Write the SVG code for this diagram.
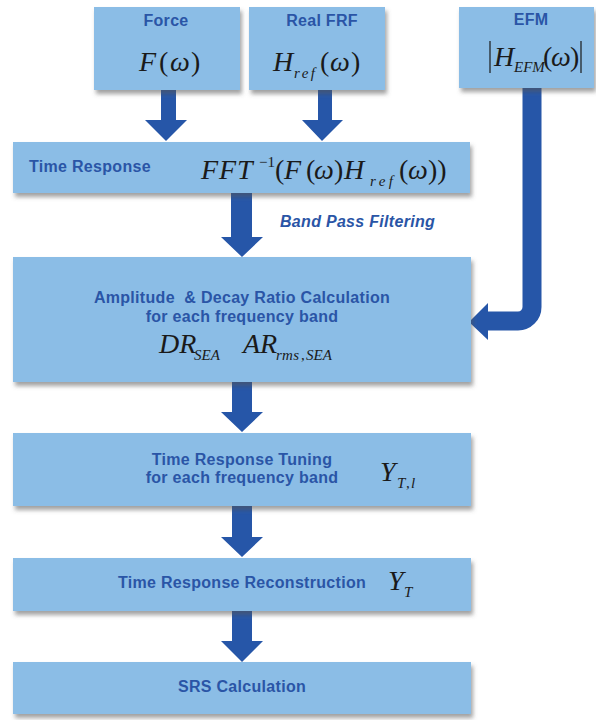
<svg xmlns="http://www.w3.org/2000/svg" width="596" height="720" viewBox="0 0 596 720">
  <defs>
    <filter id="shadow" x="-5%" y="-10%" width="115%" height="135%">
      <feDropShadow dx="2" dy="4" stdDeviation="2" flood-color="#555" flood-opacity="0.55"/>
    </filter>
    <style>
      .box { fill: #8BBDE6; filter: url(#shadow); }
      .lbl { font-family: "Liberation Sans", Arial, sans-serif; font-weight: bold; font-size: 16px; letter-spacing: 0.3px; fill: #2A55A6; }
      .math { font-family: "Liberation Serif", "Times New Roman", serif; font-style: italic; font-size: 28px; fill: #1a1a1a; }
      .up { font-style: normal; }
      .sub { font-size: 15px; }
      .arrow { fill: #2656A8; }
    </style>
  </defs>
  <rect width="596" height="720" fill="#ffffff"/>

  <!-- connectors -->
  <g id="connectors">
    <!-- Force -> Time Response -->
    <polygon class="arrow" points="161,90 176,90 176,120 187,120 166,141 145,120 161,120"/>
    <!-- Real FRF -> Time Response -->
    <polygon class="arrow" points="318,90 332,90 332,120 343,120 322,141 302,120 318,120"/>
    <!-- EFM -> Amplitude & Decay Ratio (bent arrow) -->
    <path d="M532 88 V307 A14 14 0 0 1 518 321 H485" fill="none" stroke="#2656A8" stroke-width="19"/>
    <polygon class="arrow" points="469,322 488,303 488,340"/>
    <!-- Time Response -> Amplitude & Decay Ratio -->
    <polygon class="arrow" points="231,193 252,193 252,237 263,237 242,257 221,237 231,237"/>
    <text class="lbl" x="280" y="227" font-style="italic">Band Pass Filtering</text>
    <!-- Amplitude & Decay Ratio -> Time Response Tuning -->
    <polygon class="arrow" points="232,382 252,382 252,412 263,412 242,432 221,412 232,412"/>
    <!-- Time Response Tuning -> Reconstruction -->
    <polygon class="arrow" points="232,506 252,506 252,537 263,537 242,557 221,537 232,537"/>
    <!-- Reconstruction -> SRS -->
    <polygon class="arrow" points="232,611 252,611 252,641 263,641 242,662 221,641 232,641"/>
  </g>

  <!-- Force input -->
  <g id="force">
    <rect class="box" x="94" y="7" width="146" height="83"/>
    <text class="lbl" x="166" y="26" text-anchor="middle">Force</text>
    <text class="math" y="71"><tspan x="139">F</tspan><tspan class="up" x="159">(</tspan><tspan x="170">ω</tspan><tspan class="up" x="191">)</tspan></text>
  </g>

  <!-- Real FRF input -->
  <g id="real-frf">
    <rect class="box" x="249" y="7" width="136" height="83"/>
    <text class="lbl" x="322" y="26" text-anchor="middle">Real FRF</text>
    <text class="math" y="71"><tspan x="273">H</tspan><tspan class="sub" font-size="16" x="294" y="78" textLength="21" lengthAdjust="spacing">ref</tspan><tspan class="up" x="320" y="71">(</tspan><tspan x="330">ω</tspan><tspan class="up" x="351">)</tspan></text>
  </g>

  <!-- EFM input -->
  <g id="efm">
    <rect class="box" x="459" y="7" width="135" height="81"/>
    <text class="lbl" x="531" y="25" text-anchor="middle">EFM</text>
    <line x1="490" y1="41" x2="490" y2="73" stroke="#1a1a1a" stroke-width="1.2"/>
    <line x1="581" y1="41" x2="581" y2="73" stroke="#1a1a1a" stroke-width="1.2"/>
    <text class="math" font-size="26" y="66"><tspan x="494">H</tspan><tspan class="sub" font-size="12" x="514" y="72">EFM</tspan><tspan class="up" x="543" y="66">(</tspan><tspan x="551">ω</tspan><tspan class="up" x="570">)</tspan></text>
  </g>

  <!-- Time response -->
  <g id="time-response">
    <rect class="box" x="13" y="142" width="457" height="51"/>
    <text class="lbl" x="29" y="172">Time Response</text>
    <text class="math" y="179"><tspan x="201">F</tspan><tspan x="219">F</tspan><tspan x="237">T</tspan><tspan class="up sub" font-size="16" x="259" y="167">−1</tspan><tspan class="up" x="275" y="179">(</tspan><tspan x="284">F</tspan><tspan class="up" x="306">(</tspan><tspan x="314">ω</tspan><tspan class="up" x="334">)</tspan><tspan x="344">H</tspan><tspan class="sub" font-size="16" x="370" y="186" textLength="23" lengthAdjust="spacing">ref</tspan><tspan class="up" x="399" y="179">(</tspan><tspan x="408">ω</tspan><tspan class="up" x="428">))</tspan></text>
  </g>

  <!-- Amplitude & decay ratio calculation -->
  <g id="amplitude-decay">
    <rect class="box" x="13" y="257" width="458" height="125"/>
    <text class="lbl" x="242" y="303" text-anchor="middle" xml:space="preserve">Amplitude  &amp; Decay Ratio Calculation</text>
    <text class="lbl" x="242" y="322" text-anchor="middle">for each frequency band</text>
    <text class="math" font-size="24" y="353"><tspan x="159">DR</tspan><tspan class="sub" x="194" y="360">SEA</tspan></text>
    <text class="math" font-size="24" y="353"><tspan x="243">AR</tspan><tspan class="sub" x="276" y="360" textLength="23" lengthAdjust="spacing">rms</tspan><tspan class="up sub" x="301">,</tspan><tspan class="sub" x="306">SEA</tspan></text>
  </g>

  <!-- Time response tuning -->
  <g id="tuning">
    <rect class="box" x="13" y="433" width="458" height="73"/>
    <text class="lbl" x="242" y="465" text-anchor="middle">Time Response Tuning</text>
    <text class="lbl" x="242" y="483" text-anchor="middle">for each frequency band</text>
    <text class="math" font-size="23" y="481"><tspan x="380">Y</tspan><tspan class="sub" x="397" y="488">T</tspan><tspan class="up sub" x="406">,</tspan><tspan class="sub" x="411">l</tspan></text>
  </g>

  <!-- Time response reconstruction -->
  <g id="reconstruction">
    <rect class="box" x="13" y="558" width="458" height="53"/>
    <text class="lbl" x="242" y="588" text-anchor="middle">Time Response Reconstruction</text>
    <text class="math" font-size="23" y="590"><tspan x="388">Y</tspan><tspan class="sub" x="404" y="597">T</tspan></text>
  </g>

  <!-- SRS calculation -->
  <g id="srs">
    <rect class="box" x="13" y="662" width="458" height="52"/>
    <text class="lbl" x="242" y="692" text-anchor="middle">SRS Calculation</text>
  </g>
</svg>
